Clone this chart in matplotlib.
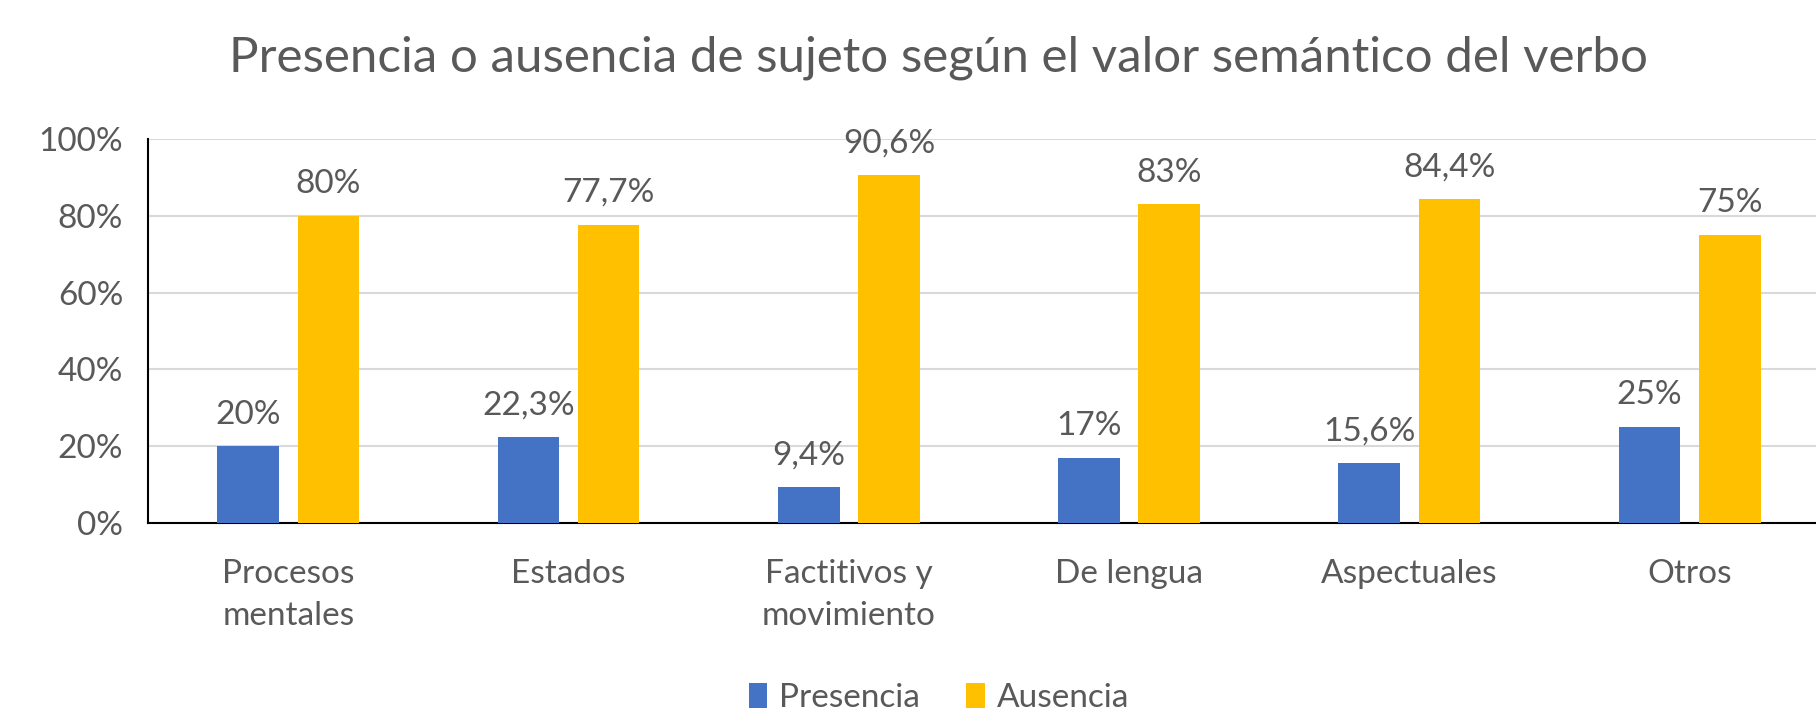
import matplotlib

matplotlib.use("Agg")
import matplotlib.pyplot as plt
import numpy as np

plt.rcParams["font.family"] = ["Lato", "DejaVu Sans"]

# Data
categories = ["Procesos\nmentales", "Estados", "Factitivos y\nmovimiento",
              "De lengua", "Aspectuales", "Otros"]
presencia = [20, 22.3, 9.4, 17, 15.6, 25]
ausencia = [80, 77.7, 90.6, 83, 84.4, 75]
presencia_labels = ["20%", "22,3%", "9,4%", "17%", "15,6%", "25%"]
ausencia_labels = ["80%", "77,7%", "90,6%", "83%", "84,4%", "75%"]
y_ticks = [0, 20, 40, 60, 80, 100]

BLUE = "#4472C4"
GOLD = "#FFC000"
TEXT = "#595959"
GRID = "#D9D9D9"

fig = plt.figure(figsize=(18.16, 7.22), dpi=100)
ax = fig.add_axes([0.0816, 0.2756, 0.926, 0.532])

x = np.arange(len(categories))
width = 0.22
offset = 0.143
b1 = ax.bar(x - offset, presencia, width, color=BLUE, label="Presencia", zorder=3)
b2 = ax.bar(x + offset, ausencia, width, color=GOLD, label="Ausencia", zorder=3)

for bars, labels in ((b1, presencia_labels), (b2, ausencia_labels)):
    for rect, lab in zip(bars, labels):
        ax.annotate(lab, (rect.get_x() + rect.get_width() / 2, rect.get_height()),
                    xytext=(0, 12), textcoords="offset points",
                    ha="center", va="bottom", fontsize=24, color=TEXT)

ax.set_xlim(-0.5, len(categories) - 0.5)
ax.set_ylim(0, 100)
ax.set_yticks(y_ticks)
ax.set_yticklabels([f"{t}%" for t in y_ticks])
ax.set_xticks(x)
ax.set_xticklabels(categories, linespacing=1.5)
ax.tick_params(axis="both", length=0, labelsize=24, labelcolor=TEXT)
ax.tick_params(axis="x", pad=26)
ax.tick_params(axis="y", pad=18)

ax.grid(axis="y", color=GRID, linewidth=1.5, zorder=0)
for side in ("top", "right"):
    ax.spines[side].set_visible(False)
for side in ("left", "bottom"):
    ax.spines[side].set_color("#000000")
    ax.spines[side].set_linewidth(1.5)

fig.text(0.517, 0.92, "Presencia o ausencia de sujeto según el valor semántico del verbo",
         ha="center", va="center", fontsize=35.5, color=TEXT)

fig.legend(handles=[b1, b2], loc="center", bbox_to_anchor=(0.517, 0.033), ncol=2,
           frameon=False, fontsize=24, labelcolor=TEXT, handlelength=0.55,
           handleheight=0.75, handletextpad=0.35, columnspacing=1.4)

fig.savefig("out.png", dpi=100)
